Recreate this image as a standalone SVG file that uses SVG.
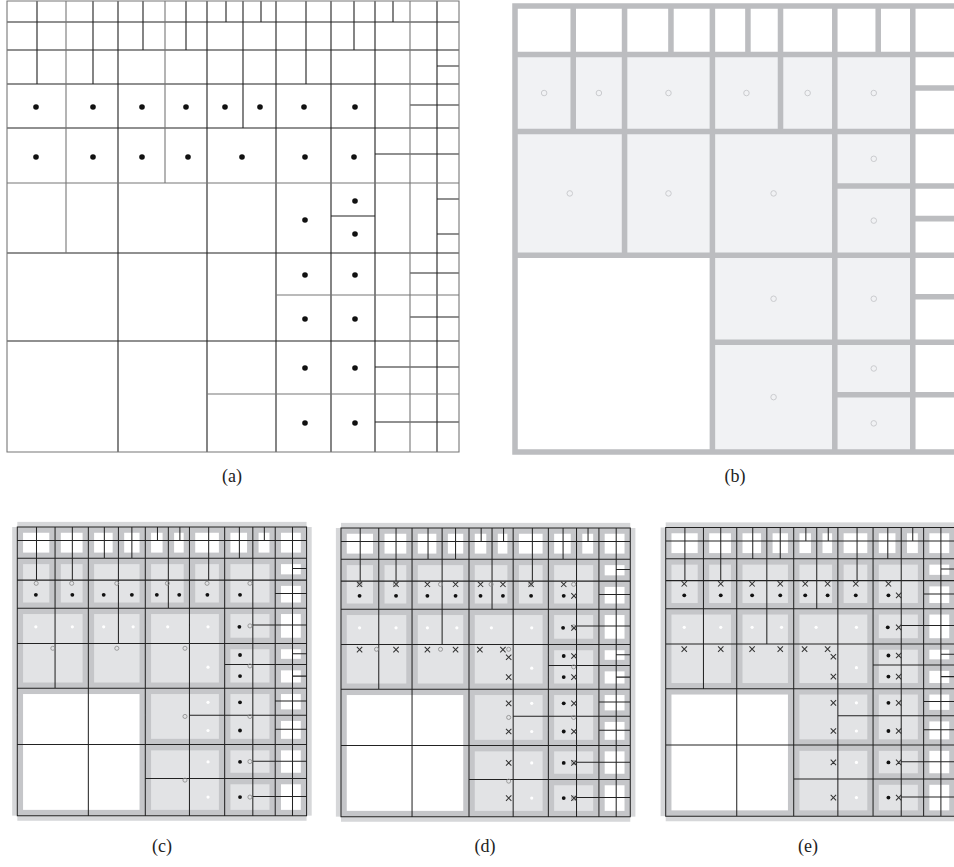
<svg xmlns="http://www.w3.org/2000/svg" width="954" height="867" viewBox="0 0 954 867">
<style>
.ga{fill:none;stroke:#222;stroke-width:1.1}
.gg{fill:none;stroke:#777;stroke-width:1.1}
.gb{fill:none;stroke:#bcbdc0;stroke-width:5.6;stroke-linecap:square}
.cellb{fill:#f1f2f4}
.cb{fill:none;stroke:#c9cacd;stroke-width:1}
.dot{fill:#111}
.band{fill:#d6d7d9}
.frame{fill:#c5c6c9}
.iw{fill:#ffffff}
.ig{fill:#e2e3e5}
.gc{fill:none;stroke:#222;stroke-width:1.6}
.wd{fill:#ffffff}
.oc{fill:none;stroke:#8c8c8c;stroke-width:1.3}
.xm{fill:none;stroke:#333;stroke-width:1.6}
.lbl{font-family:"Liberation Serif","DejaVu Serif",serif;font-size:18px;fill:#222;text-anchor:middle}
</style>
<defs>
<path id="gridpath" d="M7 22H459M7 50H459M7 84H459M7 128H459M7 183H459M7 253H459M7 341H459M437 66H459M410 105H459M375 154H459M437 199H459M331 216H459M437 234H459M410 273H459M276 295H459M410 317H459M375 367H459M207 394H459M375 422H459M37 1V84M66 1V253M93 1V84M118 1V452M143 1V50M165 1V183M186 1V50M207 1V452M226 1V22M243 1V128M261 1V22M276 1V452M306 1V84M331 1V452M354 1V50M375 1V452M393 1V22M410 1V452M437 1V452M7 1H459V452H7Z"/>
<path id="xs" d="M-4.2 -4.2L4.2 4.2M-4.2 4.2L4.2 -4.2"/>
<g id="base">
<rect class="band" x="7" y="-7" width="452" height="8"/>
<rect class="band" x="7" y="452" width="452" height="8"/>
<rect class="band" x="-1" y="1" width="8" height="451"/>
<rect class="band" x="459" y="1" width="8" height="451"/>
<rect class="frame" x="7" y="1" width="452" height="451"/>
<g class="iw">
<rect x="16" y="10" width="41" height="31"/>
<rect x="75" y="10" width="34" height="31"/>
<rect x="127" y="10" width="29" height="31"/>
<rect x="174" y="10" width="24" height="31"/>
<rect x="216" y="10" width="18" height="31"/>
<rect x="252" y="10" width="15" height="31"/>
<rect x="285" y="10" width="37" height="31"/>
<rect x="340" y="10" width="26" height="31"/>
<rect x="384" y="10" width="17" height="31"/>
<rect x="419" y="10" width="31" height="31"/>
<rect x="419" y="59" width="31" height="16"/>
<rect x="419" y="93" width="31" height="26"/>
<rect x="419" y="137" width="31" height="37"/>
<rect x="419" y="192" width="31" height="15"/>
<rect x="419" y="225" width="31" height="19"/>
<rect x="419" y="262" width="31" height="24"/>
<rect x="419" y="304" width="31" height="28"/>
<rect x="419" y="350" width="31" height="35"/>
<rect x="419" y="403" width="31" height="40"/>
<rect x="16" y="262" width="182" height="181"/>
</g>
<g class="ig">
<rect x="16" y="59" width="41" height="60"/>
<rect x="75" y="59" width="34" height="60"/>
<rect x="127" y="59" width="71" height="60"/>
<rect x="216" y="59" width="51" height="60"/>
<rect x="285" y="59" width="37" height="60"/>
<rect x="340" y="59" width="61" height="60"/>
<rect x="16" y="137" width="93" height="107"/>
<rect x="127" y="137" width="71" height="107"/>
<rect x="216" y="137" width="106" height="107"/>
<rect x="340" y="137" width="61" height="37"/>
<rect x="340" y="192" width="61" height="52"/>
<rect x="216" y="262" width="106" height="70"/>
<rect x="216" y="350" width="106" height="93"/>
<rect x="340" y="262" width="61" height="70"/>
<rect x="340" y="350" width="61" height="35"/>
<rect x="340" y="403" width="61" height="40"/>
</g>
<use href="#gridpath" class="gc"/>
<g class="dot">
<circle cx="36" cy="107" r="3"/><circle cx="93" cy="107" r="3"/><circle cx="142" cy="107" r="3"/><circle cx="186" cy="107" r="3"/><circle cx="225" cy="107" r="3"/><circle cx="260" cy="107" r="3"/><circle cx="304" cy="107" r="3"/><circle cx="355" cy="107" r="3"/>
<circle cx="354" cy="157" r="3"/><circle cx="355" cy="201" r="3"/><circle cx="355" cy="234" r="3"/><circle cx="355" cy="275" r="3"/><circle cx="355" cy="319" r="3"/><circle cx="355" cy="368" r="3"/><circle cx="355" cy="423" r="3"/>
</g>
<g class="wd">
<circle cx="36" cy="157" r="2.5"/><circle cx="93" cy="157" r="2.5"/><circle cx="142" cy="157" r="2.5"/><circle cx="188" cy="157" r="2.5"/><circle cx="242" cy="157" r="2.5"/><circle cx="305" cy="157" r="2.5"/>
<circle cx="305" cy="220" r="2.5"/><circle cx="305" cy="275" r="2.5"/><circle cx="305" cy="319" r="2.5"/><circle cx="305" cy="368" r="2.5"/><circle cx="305" cy="423" r="2.5"/>
</g>
</g>
<g id="circles" class="oc">
<circle cx="36.5" cy="89" r="3.2"/><circle cx="92" cy="89" r="3.2"/><circle cx="162.5" cy="89" r="3.2"/><circle cx="241.5" cy="89" r="3.2"/><circle cx="303.5" cy="89" r="3.2"/><circle cx="370.5" cy="89" r="3.2"/>
<circle cx="62.5" cy="190.5" r="3.2"/><circle cx="162.5" cy="190.5" r="3.2"/><circle cx="269" cy="190.5" r="3.2"/><circle cx="370.5" cy="155.5" r="3.2"/><circle cx="370.5" cy="218" r="3.2"/>
<circle cx="269" cy="297" r="3.2"/><circle cx="370.5" cy="297" r="3.2"/><circle cx="370.5" cy="367.5" r="3.2"/><circle cx="269" cy="396.5" r="3.2"/><circle cx="370.5" cy="423" r="3.2"/>
</g>
<g id="crosses" class="xm">
<use href="#xs" x="36" y="89"/><use href="#xs" x="93" y="89"/><use href="#xs" x="142" y="89"/><use href="#xs" x="186" y="89"/><use href="#xs" x="225" y="89"/><use href="#xs" x="260" y="89"/><use href="#xs" x="304" y="89"/><use href="#xs" x="355" y="89"/>
<use href="#xs" x="371" y="107"/><use href="#xs" x="371" y="157"/>
<use href="#xs" x="36" y="191"/><use href="#xs" x="93" y="191"/><use href="#xs" x="142" y="191"/><use href="#xs" x="186" y="191"/><use href="#xs" x="224" y="191"/><use href="#xs" x="260" y="191"/>
<use href="#xs" x="269" y="203"/><use href="#xs" x="269" y="234"/><use href="#xs" x="371" y="201"/><use href="#xs" x="371" y="234"/>
<use href="#xs" x="269" y="275"/><use href="#xs" x="371" y="275"/><use href="#xs" x="269" y="319"/><use href="#xs" x="371" y="319"/>
<use href="#xs" x="269" y="368"/><use href="#xs" x="371" y="368"/><use href="#xs" x="269" y="423"/><use href="#xs" x="371" y="423"/>
</g>
</defs>
<rect x="0" y="0" width="954" height="867" fill="#ffffff"/>

<g id="panel-a">
<path class="ga" d="M7 22H459M7 50H459M7 84H459M7 128H459M7 253H459M7 341H459M437 66H459M410 105H459M375 154H459M437 199H459M331 216H375M437 234H459M410 273H459M410 317H459M375 367H459M375 422H459M37 1V84M93 1V84M118 1V452M143 1V50M186 1V50M207 1V452M226 1V22M243 1V128M261 1V22M276 1V452M306 1V84M331 1V452M354 1V50M375 1V452M393 1V22M437 1V452"/>
<path class="gg" d="M7 183H459M276 295H459M207 394H459M66 1V253M165 1V183M410 1V452M7 1H459V452H7Z"/>
<g class="dot">
<circle cx="36" cy="107" r="2.8"/><circle cx="93" cy="107" r="2.8"/><circle cx="142" cy="107" r="2.8"/><circle cx="186" cy="107" r="2.8"/><circle cx="225" cy="107" r="2.8"/><circle cx="260" cy="107" r="2.8"/><circle cx="304" cy="107" r="2.8"/><circle cx="355" cy="107" r="2.8"/>
<circle cx="36" cy="157" r="2.8"/><circle cx="93" cy="157" r="2.8"/><circle cx="142" cy="157" r="2.8"/><circle cx="188" cy="157" r="2.8"/><circle cx="242" cy="157" r="2.8"/><circle cx="305" cy="157" r="2.8"/><circle cx="354" cy="157" r="2.8"/>
<circle cx="355" cy="201" r="2.8"/><circle cx="305" cy="220" r="2.8"/><circle cx="355" cy="234" r="2.8"/>
<circle cx="305" cy="275" r="2.8"/><circle cx="355" cy="275" r="2.8"/><circle cx="305" cy="319" r="2.8"/><circle cx="355" cy="319" r="2.8"/>
<circle cx="305" cy="368" r="2.8"/><circle cx="355" cy="368" r="2.8"/><circle cx="305" cy="423" r="2.8"/><circle cx="355" cy="423" r="2.8"/>
</g>
</g>

<g id="panel-b" transform="translate(515,6) scale(0.987,0.989) translate(-7,-1)">
<g class="cellb">
<rect x="7" y="50" width="59" height="78"/><rect x="66" y="50" width="52" height="78"/><rect x="118" y="50" width="89" height="78"/><rect x="207" y="50" width="69" height="78"/><rect x="276" y="50" width="55" height="78"/><rect x="331" y="50" width="79" height="78"/>
<rect x="7" y="128" width="111" height="125"/><rect x="118" y="128" width="89" height="125"/><rect x="207" y="128" width="124" height="125"/><rect x="331" y="128" width="79" height="125"/>
<rect x="207" y="253" width="124" height="199"/><rect x="331" y="253" width="79" height="199"/>
</g>
<path class="gb" d="M7 1V452M66 1V128M118 1V253M165 1V50M207 1V452M243 1V50M276 1V128M331 1V452M375 1V50M410 1V452M459 1V452M7 1H459M7 50H459M7 128H459M7 253H459M207 341H459M331 394H459M331 183H459M410 84H459M410 216H459M410 295H459M7 452H459"/>
<g class="cb">
<circle cx="36.5" cy="89" r="2.8"/><circle cx="92" cy="89" r="2.8"/><circle cx="162.5" cy="89" r="2.8"/><circle cx="241.5" cy="89" r="2.8"/><circle cx="303.5" cy="89" r="2.8"/><circle cx="370.5" cy="89" r="2.8"/>
<circle cx="62.5" cy="190.5" r="2.8"/><circle cx="162.5" cy="190.5" r="2.8"/><circle cx="269" cy="190.5" r="2.8"/><circle cx="370.5" cy="155.5" r="2.8"/><circle cx="370.5" cy="218" r="2.8"/>
<circle cx="269" cy="297" r="2.8"/><circle cx="370.5" cy="297" r="2.8"/><circle cx="370.5" cy="367.5" r="2.8"/><circle cx="269" cy="396.5" r="2.8"/><circle cx="370.5" cy="423" r="2.8"/>
</g>
</g>

<g id="panel-c" transform="translate(17.3,527) scale(0.64) translate(-7,-1)">
<use href="#base"/>
<use href="#circles"/>
</g>
<g id="panel-d" transform="translate(341,528) scale(0.64) translate(-7,-1)">
<use href="#base"/>
<use href="#circles"/>
<use href="#crosses"/>
</g>
<g id="panel-e" transform="translate(665.7,527.5) scale(0.64) translate(-7,-1)">
<use href="#base"/>
<use href="#crosses"/>
</g>

<g id="labels">
<text class="lbl" x="232" y="482">(a)</text>
<text class="lbl" x="735" y="482">(b)</text>
<text class="lbl" x="162" y="852">(c)</text>
<text class="lbl" x="485" y="852">(d)</text>
<text class="lbl" x="808" y="852">(e)</text>
</g>
</svg>
